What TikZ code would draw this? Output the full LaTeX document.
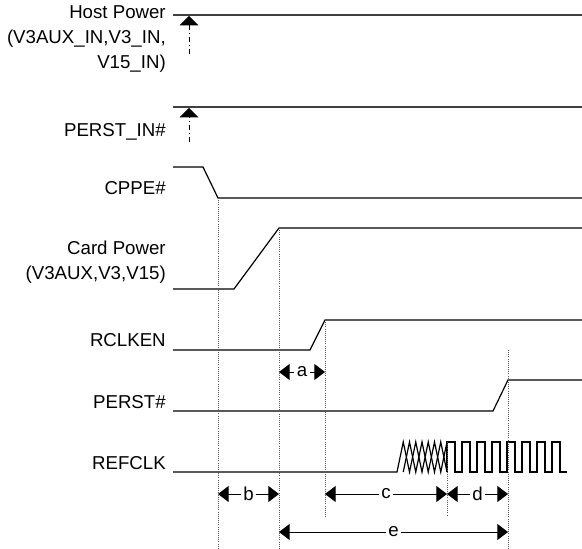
\documentclass[tikz,border=0pt]{standalone}
\usepackage{fontspec}
\setsansfont{Liberation Sans}
\usepackage{tikz}
\usetikzlibrary{arrows.meta,calc}

\begin{document}
\begin{tikzpicture}[
  x=0.75pt, y={(0pt,-0.75pt)},
  font=\sffamily\fontsize{14}{18.75}\selectfont,
  sig/.style={line width=0.9pt,line join=miter},
  rail/.style={line width=1.1pt,draw=black!75},
  rise/.style={dash pattern=on 4pt off 2pt on 1pt off 2pt,line width=0.6pt,-{Triangle[length=7pt,width=14pt]}},
  guide/.style={densely dotted,line width=0.6pt,draw=black!65},
  dim/.style={{Triangle[length=8pt,width=12pt]}-{Triangle[length=8pt,width=12pt]},line width=0.7pt},
  lbl/.style={fill=white,inner sep=2pt},
  signame/.style={anchor=east,align=right,inner sep=0pt}
]
\useasboundingbox (0,0) rectangle (582,549);
% signal names
\node[signame] (hostLbl) at (166,39) {Host Power\\(V3AUX\_IN,V3\_IN,\\V15\_IN)};
\node[signame] (perstInLbl) at (166,132) {PERST\_IN\#};
\node[signame] (cppeLbl) at (166,188) {CPPE\#};
\node[signame] (cardLbl) at (166,262) {Card Power\\(V3AUX,V3,V15)};
\node[signame] (rclkLbl) at (166,340) {RCLKEN};
\node[signame] (perstLbl) at (166,402) {PERST\#};
\node[signame] (refLbl) at (166,463) {REFCLK};
% edges
\coordinate (cppeFall) at (218,198);
\coordinate (cardUp) at (279,228);
\coordinate (rclkUp) at (325,320);
\coordinate (clkRun) at (447,442);
\coordinate (perstUp) at (508,380);
\coordinate (hostOn) at (189,16);
\coordinate (perstInOn) at (189,108);
% waveforms
\draw[rail] (173,15) -- (582,15);
\draw[rise] (hostOn |- 0,54) -- (hostOn);
\draw[rail] (173,107) -- (582,107);
\draw[rise] (perstInOn |- 0,142) -- (perstInOn);
\draw[sig] (173,167) -- (203,167) -- (cppeFall) -- (582,198);
\draw[sig] (173,289) -- (234,289) -- (cardUp) -- (582,228);
\draw[sig] (173,350) -- (310,350) -- (rclkUp) -- (582,320);
\draw[sig] (173,411) -- (493,411) -- (perstUp) -- (582,380);
\draw[sig] (173,472) -- (397,472) \foreach \k in {1,...,8} {-- ({397+6.25*\k},{442+30*mod(\k+1,2)})};
\draw[sig] (403.25,472) \foreach \k in {2,...,8} {-- ({397+6.25*\k},{442+30*mod(\k,2)})};
\draw[sig] (447,472) \foreach \i in {0,...,7} {-- ++(0,-30) -- ++(8,0) -- ++(0,30) -- ++(7,0)};
% guides
\draw[guide] (cppeFall) -- (cppeFall |- 0,549);
\draw[guide] (cardUp) -- (cardUp |- 0,549);
\draw[guide] (rclkUp) -- (rclkUp |- 0,518);
\draw[guide] (clkRun) -- (clkRun |- 0,516);
\draw[guide] (perstUp |- 0,350) -- (perstUp |- 0,549);
% timings
\draw[dim] (cardUp |- 0,372) -- node[lbl] {a} (rclkUp |- 0,372);
\draw[dim] (cppeFall |- 0,494) -- node[lbl] {b} (cardUp |- 0,494);
\draw[dim] (rclkUp |- 0,494) -- node[lbl] {c} (clkRun |- 0,494);
\draw[dim] (clkRun |- 0,494) -- node[lbl] {d} (perstUp |- 0,494);
\draw[dim] (cardUp |- 0,532) -- node[lbl] {e} (perstUp |- 0,532);
\end{tikzpicture}
\end{document}
